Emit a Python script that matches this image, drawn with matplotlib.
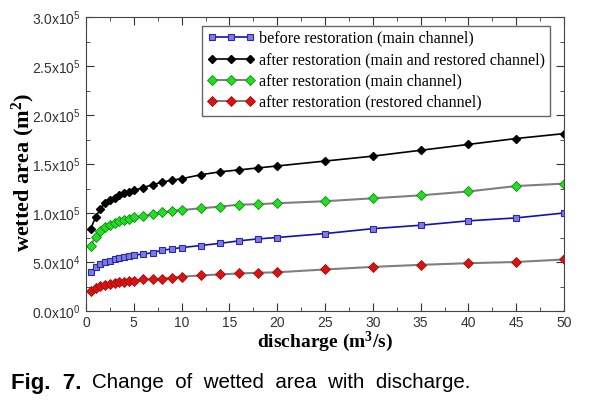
import numpy as np
import matplotlib
matplotlib.use("Agg")
import matplotlib.pyplot as plt
from matplotlib.ticker import MultipleLocator, FuncFormatter

# discharge (m3/s)
discharge = [0.5, 1, 1.5, 2, 2.5, 3, 3.5, 4, 4.5, 5, 6, 7, 8, 9, 10,
             12, 14, 16, 18, 20, 25, 30, 35, 40, 45, 50]

# wetted area (m2)
before_main = [39400, 45200, 47600, 49700, 51400, 53000, 54500, 55500, 56000, 57200,
               58000, 59600, 62000, 63400, 64700, 66800, 69000, 71600, 73600, 75000,
               79000, 84000, 87500, 92000, 95000, 100000]
after_total = [84000, 96000, 104000, 110000, 113000, 115000, 118000, 120000, 121500, 123000,
               126000, 129000, 131500, 133500, 135000, 139000, 142000, 144000, 146000, 148000,
               153000, 158000, 164000, 170000, 176000, 181000]
after_main = [66800, 76000, 82000, 85600, 88000, 90000, 91400, 93000, 94000, 95500,
              97000, 98600, 100700, 102000, 103000, 104800, 106500, 108500, 109000, 110000,
              112000, 115000, 118000, 122000, 127500, 130000]
after_restored = [20500, 23600, 25700, 27000, 28000, 28800, 29800, 30000, 30800, 31000,
                  32200, 32500, 33000, 34000, 35000, 36300, 37300, 38300, 39000, 39500,
                  42400, 45000, 47100, 48800, 50000, 52600]

labels = ["before restoration (main channel)",
          "after restoration (main and restored channel)",
          "after restoration (main channel)",
          "after restoration (restored channel)"]

plt.rcParams["font.family"] = ["Liberation Sans", "DejaVu Sans"]
plt.rcParams["mathtext.fontset"] = "custom"
plt.rcParams["mathtext.rm"] = "Liberation Sans"
plt.rcParams["mathtext.default"] = "regular"

fig = plt.figure(figsize=(5.9, 4.09), dpi=100)
ax = fig.add_axes([86 / 590, 1 - 311 / 409, 478 / 590, 294 / 409])

ax.plot(discharge, before_main, color="#1010c0", lw=1.2, marker="s", ms=5,
        mfc="#7b7be8", mec="#2a2aa0", mew=0.8, label=labels[0])
ax.plot(discharge, after_total, color="black", lw=1.2, marker="D", ms=4.5,
        mfc="black", mec="black", label=labels[1])
ax.plot(discharge, after_main, color="#7f7f7f", lw=1.5, marker="D", ms=4.8,
        mfc="#22dd22", mec="#118811", mew=0.6, label=labels[2])
ax.plot(discharge, after_restored, color="#7f7f7f", lw=1.5, marker="D", ms=4.8,
        mfc="#dd1111", mec="#991111", mew=0.6, label=labels[3])

ax.set_xlim(0, 50)
ax.set_ylim(0, 300000)
ax.xaxis.set_major_locator(MultipleLocator(5))
ax.xaxis.set_minor_locator(MultipleLocator(2.5))
ax.yaxis.set_major_locator(MultipleLocator(50000))
ax.yaxis.set_minor_locator(MultipleLocator(25000))


def sci_fmt(v, pos):
    if v <= 0:
        return r"$0.0x10^{0}$"
    exp = int(np.floor(np.log10(v)))
    return r"$%.1fx10^{%d}$" % (v / 10 ** exp, exp)


ax.yaxis.set_major_formatter(FuncFormatter(sci_fmt))
ax.tick_params(which="both", direction="in", top=True, right=True,
               labelsize=10, colors="#333333", labelcolor="#333333")
ax.tick_params(which="major", length=6)
ax.tick_params(which="minor", length=3)
for s in ax.spines.values():
    s.set_color("#444444")

ax.set_xlabel("discharge (m$^{3}$/s)", fontfamily="Liberation Serif",
              fontweight="bold", fontsize=14, labelpad=0)
ax.set_ylabel("wetted area (m$^{2}$)", fontfamily="Liberation Serif",
              fontweight="bold", fontsize=16)
ax.yaxis.set_label_coords(-0.103, 0.47)

leg = ax.legend(loc="upper left", bbox_to_anchor=(202 / 590, 1 - 26 / 409),
                bbox_transform=fig.transFigure, borderaxespad=0,
                numpoints=3, handlelength=3.0, handletextpad=0.25,
                borderpad=0.3, labelspacing=0.33,
                fancybox=False, framealpha=1, edgecolor="#666666",
                prop={"family": "Liberation Serif", "size": 11.6})
leg.get_frame().set_linewidth(1.0)

fig.text(11 / 590, 1 - 383 / 409, "Fig.  7.", fontsize=16, fontweight="bold",
         va="center", ha="left")
fig.text(92 / 590, 1 - 383 / 409, "Change  of  wetted  area  with  discharge.",
         fontsize=14.8, va="center", ha="left")

fig.savefig("out.png", dpi=100)
